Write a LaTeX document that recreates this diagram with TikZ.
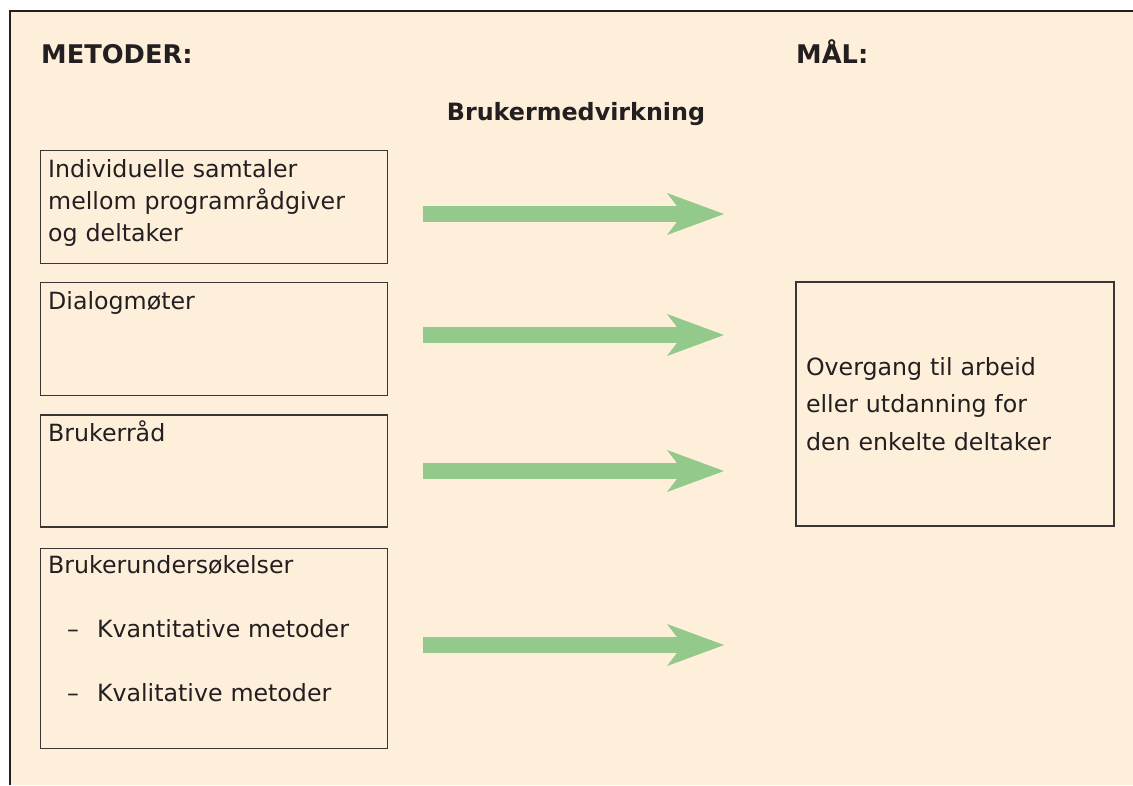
\documentclass[tikz,border=0pt]{standalone}
\usepackage{fontspec}
\setmainfont{DejaVu Sans}
\usetikzlibrary{positioning,arrows.meta}
\definecolor{paper}{HTML}{FEEFDB}
\definecolor{frameline}{HTML}{231F20}
\definecolor{boxline}{HTML}{3B3534}
\definecolor{inktext}{HTML}{231F20}
\definecolor{arrowgreen}{HTML}{93C98A}
\tikzset{
  methodbox/.style={draw=boxline, line width=1.2pt, minimum width=347pt, inner sep=0pt, anchor=north west},
  boxtext/.style={anchor=base west, inner sep=0pt, text width=335pt, align=left, text=inktext, font=\fontsize{23.7}{32}\selectfont},
  heading/.style={anchor=base west, inner sep=0pt, text=inktext, font=\bfseries\fontsize{25.7}{30}\selectfont},
  fatarrow/.style={draw=arrowgreen, line width=16pt,
    -{Stealth[length=57pt, width=42pt, inset=16pt, line width=0pt, fill=arrowgreen]}}
}
\begin{document}
\begin{tikzpicture}[x=1pt, y=-1pt]
	\useasboundingbox (0,0) rectangle (1133,785);
	% Frame
	\fill[white] (0,0) rectangle (1133,785);
	\fill[paper] (10,11) rectangle (1133,785);
	\draw[frameline, line width=2.5pt] (10,785) -- (10,11) -- (1133,11);
	% Headings
	\node[heading] (Metoder) at (41,63) {METODER:};
	\node[heading] (Maal) at (796,63) {MÅL:};
	\node[heading, anchor=base, font=\bfseries\fontsize{23.8}{28}\selectfont] (Medvirkning) at (576,120) {Brukermedvirkning};
	% Methods
	\node[methodbox, minimum height=113pt] (Samtaler) at (40,150) {};
	\node[methodbox, minimum height=113pt, below=18pt of Samtaler] (Dialog) {};
	\node[methodbox, minimum height=112pt, below=18pt of Dialog] (Raad) {};
	\node[methodbox, minimum height=200pt, below=20pt of Raad] (Undersok) {};
	\node[boxtext] (SamtalerTxt) at ([shift={(8,27)}]Samtaler.north west) {Individuelle samtaler\\mellom programrådgiver\\og deltaker};
	\node[boxtext] (DialogTxt) at ([shift={(8,27)}]Dialog.north west) {Dialogmøter};
	\node[boxtext] (RaadTxt) at ([shift={(8,27)}]Raad.north west) {Brukerråd};
	\node[boxtext, font=\fontsize{23.7}{64}\selectfont] (UndersokTxt) at ([shift={(8,26)}]Undersok.north west) {Brukerundersøkelser\\\hspace*{19pt}–\hspace{18pt}Kvantitative metoder\\\hspace*{19pt}–\hspace{18pt}Kvalitative metoder};
	% Goal
	\node[draw=boxline, line width=1.2pt, minimum width=318pt, minimum height=244pt, inner sep=10pt,
		text width=298pt, align=left, text=inktext, font=\fontsize{23.7}{37.5}\selectfont] (Overgang) at (955,404)
		{Overgang til arbeid\\eller utdanning for\\den enkelte deltaker};
	% Arrows
	\foreach \name/\y in {a/214, b/335, c/471, d/645} {
		\coordinate (\name from) at (423,\y);
		\coordinate (\name to) at (724,\y);
		\draw[fatarrow] (\name from) -- (\name to);
	}
\end{tikzpicture}
\end{document}
